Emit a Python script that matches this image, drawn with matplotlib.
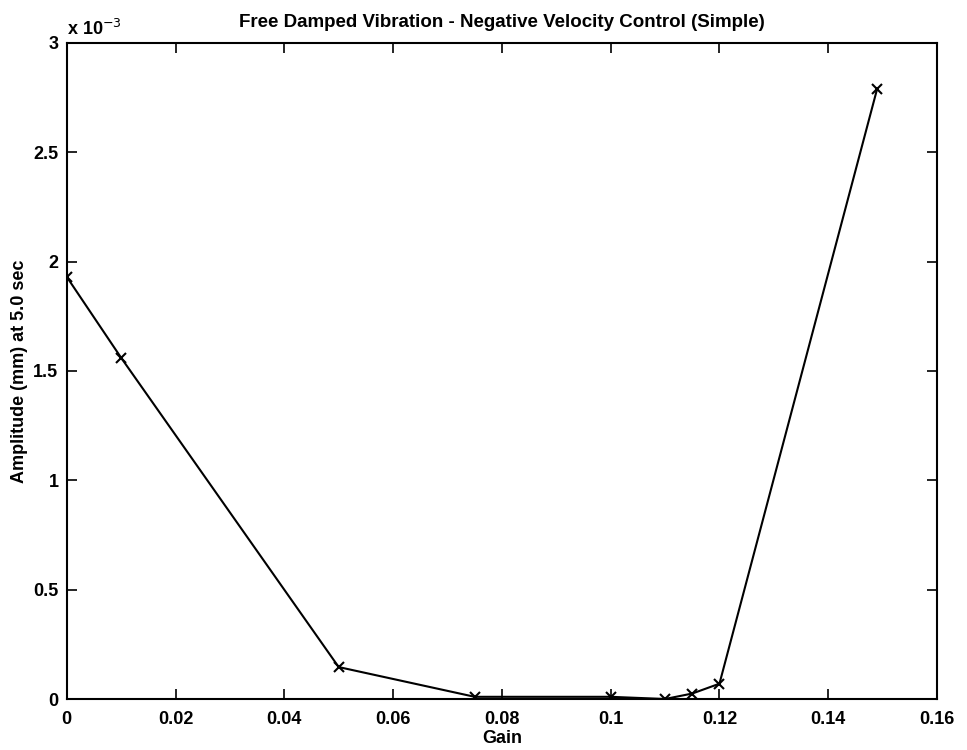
import numpy as np
import matplotlib
matplotlib.use('Agg')
import matplotlib.pyplot as plt
from matplotlib.ticker import FuncFormatter

# controller gain vs. residual amplitude after 5 s
gain = [0.0, 0.01, 0.05, 0.075, 0.10, 0.11, 0.115, 0.12, 0.149]
amplitude = [1.93e-3, 1.56e-3, 0.146e-3, 0.010e-3, 0.010e-3, 0.0, 0.025e-3, 0.070e-3, 2.79e-3]

xticks = [0, 0.02, 0.04, 0.06, 0.08, 0.1, 0.12, 0.14, 0.16]
yticks = [0, 0.5e-3, 1.0e-3, 1.5e-3, 2.0e-3, 2.5e-3, 3.0e-3]

plt.rcParams['font.family'] = ['Liberation Sans', 'DejaVu Sans']

fig = plt.figure(figsize=(9.67, 7.5), dpi=100)
ax = fig.add_axes([0.069, 0.068, 0.9, 0.875])

ax.plot(gain, amplitude, color='black', linewidth=1.5, marker='x',
        markersize=7, markeredgewidth=1.5)

ax.set_xlim(0, 0.16)
ax.set_ylim(0, 3e-3)
ax.set_xticks(xticks)
ax.set_yticks(yticks)
ax.xaxis.set_major_formatter(FuncFormatter(lambda v, p: '0' if v == 0 else ('%g' % v)))
ax.yaxis.set_major_formatter(FuncFormatter(lambda v, p: '%g' % round(v * 1e3, 3)))

ax.tick_params(direction='in', top=True, right=True, length=7, width=1.2,
               labelsize=13)
ax.tick_params(axis='x', pad=9)
ax.tick_params(axis='y', pad=6)
for lbl in ax.get_xticklabels() + ax.get_yticklabels():
    lbl.set_fontweight('bold')
for s in ax.spines.values():
    s.set_linewidth(1.5)

ax.text(0.0, 1.005, 'x 10$^{-3}$', transform=ax.transAxes, fontsize=13,
        fontweight='bold', ha='left', va='bottom')

ax.set_title('Free Damped Vibration - Negative Velocity Control (Simple)',
             fontsize=13.5, fontweight='bold', pad=11)
ax.set_xlabel('Gain', fontsize=13, fontweight='bold', labelpad=1)
ax.set_ylabel('Amplitude (mm) at 5.0 sec', fontsize=13, fontweight='bold', labelpad=4)

fig.savefig('out.png', dpi=100)
